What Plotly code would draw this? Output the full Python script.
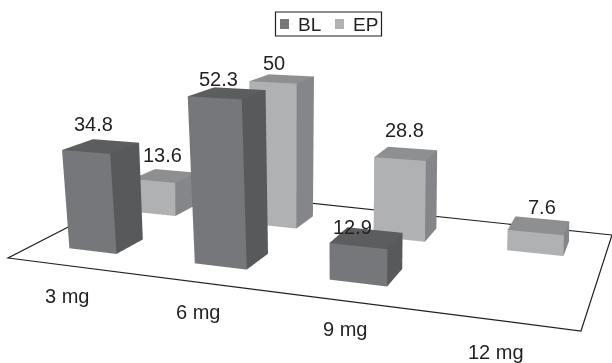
import plotly.graph_objects as go

categories = ["3 mg", "6 mg", "9 mg", "12 mg"]
series_names = ["BL", "EP"]
bl_values = [34.8, 52.3, 12.9, None]
ep_values = [13.6, 50, 28.8, 7.6]

FONT = "Liberation Sans"
INK = "#231f20"
TXT = 20
BL_COL = dict(front="#76777a", top="#5c5d5f", side="#58595b")
EP_COL = dict(front="#b0b1b3", top="#8e8f91", side="#85868a")
# bar placement inside the scene
BL_X = [-0.084, 1.093, 2.24, 3.3]
EP_X = [-0.181, 1.042, 2.229, 3.395]
BL_Y, EP_Y = 0.242, 1.171
BL_W, EP_W = 0.455, 0.46
DEPTH, SHEAR = 0.334, 0.358
LEAN0, LEAN1 = 0.307, -0.151
BL_SHIFT = [(-8, 22), (-9, 14), (-14, 11), (0, 0)]
EP_SHIFT = [(-2, 21), (-8, 16), (-2, 24), (3, 19)]


def place(x, y, z):
    u = x + SHEAR * y
    return u + (LEAN0 + LEAN1 * u) * z / 50


def bars(values, xs, y0, w, col):
    X, Y, Z, I, J, K, C = [], [], [], [], [], [], []
    for v, x0 in zip(values, xs):
        if v is None:
            continue
        n = len(X)
        for z in (0, v):
            for yy in (y0, y0 + DEPTH):
                for xx in (x0, x0 + w):
                    X.append(place(xx, yy, z))
                    Y.append(yy)
                    Z.append(z)
        faces = [((0, 1, 5, 4), "front"), ((1, 3, 7, 5), "side"), ((4, 5, 7, 6), "top"),
                 ((0, 2, 6, 4), "side"), ((2, 3, 7, 6), "side"), ((0, 1, 3, 2), "side")]
        for (a, b, c, d), name in faces:
            I += [n + a, n + a]
            J += [n + b, n + c]
            K += [n + c, n + d]
            C += [col[name], col[name]]
    return X, Y, Z, I, J, K, C


fig = go.Figure()
LIGHT = dict(ambient=1, diffuse=0, specular=0, roughness=1, fresnel=0)
for nm, vals, xs, y0, w, col in (("BL", bl_values, BL_X, BL_Y, BL_W, BL_COL),
                                 ("EP", ep_values, EP_X, EP_Y, EP_W, EP_COL)):
    X, Y, Z, I, J, K, C = bars(vals, xs, y0, w, col)
    fig.add_trace(go.Mesh3d(x=X, y=Y, z=Z, i=I, j=J, k=K, facecolor=C, flatshading=True, name=nm,
                            lighting=LIGHT, hoverinfo="skip", showlegend=False, showscale=False))

ann = []
for vals, xs, y0, w, shifts in ((bl_values, BL_X, BL_Y, BL_W, BL_SHIFT), (ep_values, EP_X, EP_Y, EP_W, EP_SHIFT)):
    for v, x0, (sx, sy) in zip(vals, xs, shifts):
        if v is None:
            continue
        yy = y0 + DEPTH / 2
        ann.append(dict(x=place(x0 + w / 2, yy, v), y=yy, z=v, text=str(v), showarrow=False,
                        xshift=sx, yshift=sy, yanchor="middle",
                        font=dict(family=FONT, size=TXT, color=INK)))


def px(x, y):
    return x / 612, 1 - y / 363


cat_px = [(67, 296), (198, 312), (345, 329), (496, 352)]
paper_ann = []
for t, (x, y) in zip(categories, cat_px):
    a, b = px(x, y)
    paper_ann.append(dict(x=a, y=b, xref="paper", yref="paper", text=t, showarrow=False,
                          xanchor="center", yanchor="middle",
                          font=dict(family=FONT, size=TXT, color=INK)))
# legend
for t, x in zip(series_names, (309, 365.5)):
    a, b = px(x, 24)
    paper_ann.append(dict(x=a, y=b, xref="paper", yref="paper", text=t, showarrow=False,
                          xanchor="center", yanchor="middle",
                          font=dict(family=FONT, size=19, color=INK)))

floor = [(8, 258), (581, 331), (612, 235), (148, 186)]
path = "M " + " L ".join("{:.4f},{:.4f}".format(*px(x, y)) for x, y in floor) + " Z"
shapes = [dict(type="path", path=path, xref="paper", yref="paper", layer="below",
               line=dict(color=INK, width=1.2))]


def rect(x0, y0, x1, y1, **kw):
    a0, b0 = px(x0, y0)
    a1, b1 = px(x1, y1)
    return dict(type="rect", xref="paper", yref="paper", x0=a0, y0=b0, x1=a1, y1=b1, **kw)


shapes.append(rect(275.5, 12, 381.5, 36, line=dict(color=INK, width=1.2)))
shapes.append(rect(280, 19, 289, 29, fillcolor=BL_COL["front"], line=dict(width=0)))
shapes.append(rect(335, 19, 344, 29, fillcolor=EP_COL["front"], line=dict(width=0)))

fig.update_layout(
    width=612, height=363, margin=dict(l=0, r=0, t=0, b=0),
    paper_bgcolor="white", showlegend=False,
    annotations=paper_ann, shapes=shapes,
    scene=dict(
        domain=dict(x=[0, 1], y=[0, 1]),
        xaxis=dict(visible=False, range=[-2, 6]),
        yaxis=dict(visible=False, range=[0, 2]),
        zaxis=dict(visible=False, range=[0, 60]),
        aspectmode="manual", aspectratio=dict(x=4.674, y=0.829, z=0.977),
        camera=dict(eye=dict(x=0.364, y=-1.899, z=0.894), center=dict(x=0.038, y=-0.094, z=-0.097),
                    up=dict(x=-0.005, y=0, z=1), projection=dict(type="perspective")),
        annotations=ann,
    ),
)
fig.write_html("out.html", config=dict(displayModeBar=False),
               post_script="document.body.style.margin='0';")
